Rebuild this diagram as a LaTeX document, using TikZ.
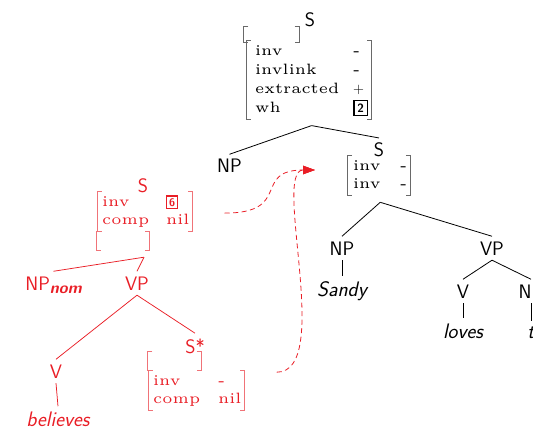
\documentclass[tikz,border=0pt]{standalone}
\usepackage{fontspec}
\usetikzlibrary{arrows.meta,calc}
\newfontfamily\avmfont{lmroman5-regular.otf}
\definecolor{tagred}{RGB}{233,30,38}
\definecolor{tagredlight}{RGB}{240,115,120}
\definecolor{brkgray}{RGB}{105,105,105}

% boxed coindexation tags
\newcommand\tagbox[3]{{\setlength\fboxrule{1.3pt}\setlength\fboxsep{#2}\fbox{\sffamily\bfseries\fontsize{#3}{#3}\selectfont #1}}}

% square brackets drawn round an AVM node
\newcommand\avmbrackets[4]{%
  \draw[#4] ([xshift=-#2+4.5pt]#1.north west) -- ([xshift=-#2]#1.north west)
            -- ([xshift=-#2]#1.south west) -- ([xshift=-#2+4.5pt]#1.south west);
  \draw[#4] ([xshift=#3-4.5pt]#1.north east) -- ([xshift=#3]#1.north east)
            -- ([xshift=#3]#1.south east) -- ([xshift=#3-4.5pt]#1.south east);}

\tikzset{
  lbl/.style={font=\sffamily\fontsize{19.5}{20}\selectfont, inner xsep=2pt, inner ysep=5pt, anchor=base},
  word/.style={font=\sffamily\itshape\fontsize{21}{21}\selectfont\addfontfeatures{LetterSpace=5}, inner xsep=2pt, inner ysep=5pt, anchor=base},
  avm/.style={inner xsep=0pt, inner ysep=1.5pt, anchor=north west, font=\avmfont\fontsize{15}{18}\selectfont},
  emptyavm/.style={inner sep=0pt, draw=none},
  brk/.style={line width=0.9pt, brkgray},
  redbrk/.style={line width=0.9pt, tagredlight},
  edge/.style={line width=0.8pt, black},
  rededge/.style={line width=0.75pt, tagred},
  adjoin/.style={line width=0.8pt, tagred, dash pattern=on 5pt off 3.5pt,
                 -{Triangle[length=12pt,width=8.5pt]}},
}

\begin{document}
\begin{tikzpicture}[x=1pt,y=-1pt]
\useasboundingbox (0,0) rectangle (533,433);
\clip (0,0) rectangle (533,433);

% ---------- initial tree ----------
\node[lbl] (s1) at (310,27) {S};
\node[emptyavm, minimum width=55pt, minimum height=15pt] (e1) at (271.5,34.5) {};
\avmbrackets{e1}{0pt}{0pt}{brk}
\node[avm, font=\avmfont\fontsize{15}{19}\selectfont] (a1) at (255,40.2)
  {\begin{tabular}{@{}p{98pt}@{}l@{}}inv&-\\invlink&-\\extracted&$+$\\wh&\tagbox{2}{2.8pt}{12}\end{tabular}};
\avmbrackets{a1}{9pt}{3.5pt}{brk}

\node[lbl] (np1) at (229.5,173) {NP};
\node[lbl] (s2) at (379,157) {S};
\node[avm] (a2) at (353,155.9)
  {\begin{tabular}{@{}p{47pt}@{}c@{}}inv&-\\inv&-\end{tabular}};
\avmbrackets{a2}{5.5pt}{3pt}{brk}

\node[lbl] (np2) at (342,255) {NP};
\node[word] (sandy) at (342,296) {Sandy};
\node[lbl] (vp2) at (492,255) {VP};
\node[lbl] (v2) at (463,298) {V};
\node[word] (loves) at (463,338) {loves};
\node[lbl] (np3) at (531,298) {NP};
\node[word] (trace) at (531,338) {t};

\draw[edge] ($(a1.south)+(0,6)$) -- (np1.north);
\draw[edge] ($(a1.south)+(0,6)$) -- (s2.north);
\draw[edge] ($(a2.south)+(0,7)$) -- (np2.north);
\draw[edge] ($(a2.south)+(0,7)$) -- (vp2.north);
\draw[edge] (np2.south) -- (sandy.north);
\draw[edge] (vp2.south) -- (v2.north);
\draw[edge] (vp2.south) -- (np3.north);
\draw[edge] (v2.south) -- (loves.north);
\draw[edge] (np3.south) -- (trace.north);

% ---------- auxiliary tree ----------
\begin{scope}[tagred]
\node[lbl] (s3) at (143,193) {S};
\node[avm] (a3) at (102,191.9)
  {\begin{tabular}{@{}p{64pt}@{}l@{}}inv&\tagbox{6}{1.6pt}{11}\\comp&nil\end{tabular}};
\avmbrackets{a3}{5pt}{3pt}{redbrk}
\node[emptyavm, minimum width=53pt, minimum height=18pt] (e3) at (123,241) {};
\avmbrackets{e3}{0pt}{0pt}{redbrk}

\node[lbl] (npnom) at (53.5,290) {NP\raisebox{-3.5pt}{\bfseries\itshape\fontsize{16}{16}\selectfont nom}};
\node[lbl] (vp3) at (137,290) {VP};
\node[lbl] (v3) at (56,378) {V};
\node[word] (believes) at (58,426) {believes};
\node[lbl] (s4) at (195,353) {S*};
\node[emptyavm, minimum width=53pt, minimum height=18pt] (e4) at (174.5,361) {};
\avmbrackets{e4}{0pt}{0pt}{redbrk}
\node[avm] (a4) at (153,370.9)
  {\begin{tabular}{@{}p{65pt}@{}l@{}}inv&-\\comp&nil\end{tabular}};
\avmbrackets{a4}{5pt}{3pt}{redbrk}
\end{scope}

\draw[rededge] ($(s3.center |- e3.south)+(1,7)$) -- (npnom.north);
\draw[rededge] ($(s3.center |- e3.south)+(1,7)$) -- (vp3.north);
\draw[rededge] (vp3.south) -- (v3.north);
\draw[rededge] (vp3.south) -- (s4.north);
\draw[rededge] (v3.south) -- (believes.north);

% ---------- adjunction arrows ----------
\coordinate (tip) at (315,170);
\draw[adjoin] ($(a3.east)+(35,1.5)$) .. controls +(68,0) and +(-63,0) .. (tip);
\draw[adjoin] ($(a4.east)+(35,-18.4)$) .. controls +(57,0) and +(-43,0) .. (tip);
\end{tikzpicture}
\end{document}
